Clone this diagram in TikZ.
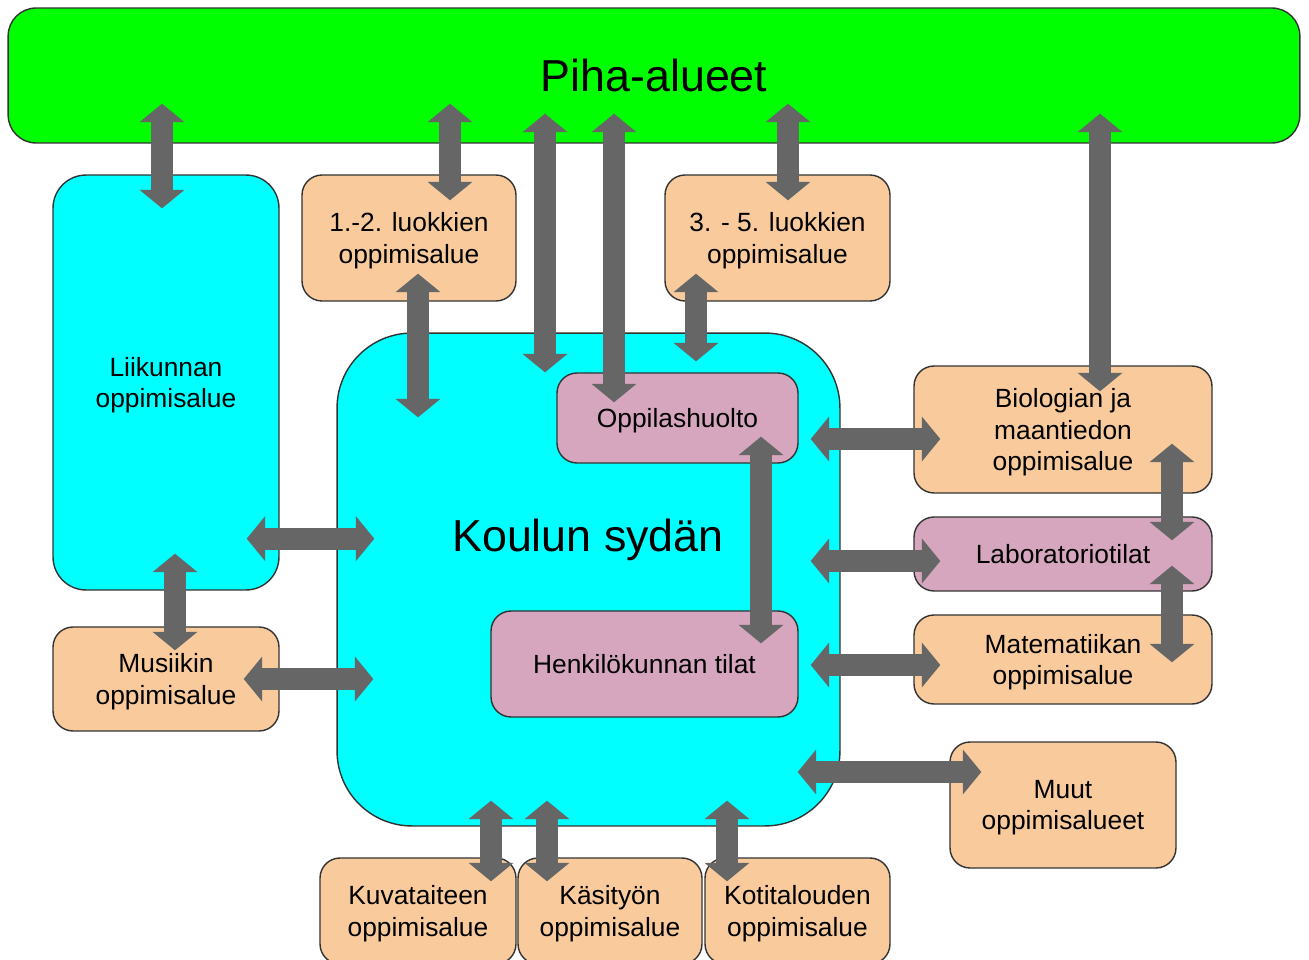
\documentclass[tikz,border=0pt]{standalone}
\usepackage{fontspec}
\setmainfont{Liberation Sans}
\usetikzlibrary{positioning,arrows.meta,calc}

\definecolor{pihagreen}{HTML}{00FF00}
\definecolor{sydancyan}{HTML}{00FFFF}
\definecolor{alueorange}{HTML}{F9CB9C}
\definecolor{tilapink}{HTML}{D5A6BD}
\definecolor{arrowgray}{HTML}{666666}

\begin{document}
\begin{tikzpicture}[x=0.02cm, y=-0.02cm,
    area/.style={rectangle, draw=black!80, line width=0.8pt, rounded corners=0.4cm,
        align=center, inner sep=0pt, text depth=0pt, font=\fontsize{15}{17.9}\selectfont},
    alue/.style={area, fill=alueorange},
    tila/.style={area, fill=tilapink},
    bigtext/.style={font=\fontsize{25.5}{30}\selectfont, text depth=0pt},
    twoway/.style={{Triangle[width=25pt,length=10.5pt]}-{Triangle[width=25pt,length=10.5pt]},
        line width=12.5pt, color=arrowgray}]

    \clip (0,0) rectangle (1309,960);

    % areas
    \node[area, fill=pihagreen, rounded corners=0.56cm, minimum width=25.84cm, minimum height=2.7cm, bigtext] (piha) at (654,75.5) {Piha-alueet};
    \node[area, fill=sydancyan, rounded corners=0.66cm, minimum width=4.52cm, minimum height=8.3cm] (liik) at (166,382.5) {Liikunnan\\oppimisalue};
    \node[alue, minimum width=4.28cm, minimum height=2.52cm] (luok12) at (409,238) {1.-2. luokkien\\oppimisalue};
    \node[alue, minimum width=4.5cm, minimum height=2.52cm] (luok35) at (777.5,238) {3. - 5. luokkien\\oppimisalue};
    \node[area, fill=sydancyan, rounded corners=1.5cm, minimum width=10.06cm, minimum height=9.86cm] (sydan) at (588.5,579.5) {};
    \node[bigtext] (sydanteksti) at (588,535) {Koulun sydän};
    \node[tila, minimum width=4.82cm, minimum height=1.8cm] (oppilas) at (677.5,418) {Oppilashuolto};
    \node[tila, minimum width=6.14cm, minimum height=2.12cm] (henk) at (644.5,664) {Henkilökunnan tilat};
    \node[alue, minimum width=5.96cm, minimum height=2.54cm] (bio) at (1063,429.5) {Biologian ja\\maantiedon\\oppimisalue};
    \node[tila, minimum width=5.96cm, minimum height=1.48cm] (lab) at (1063,554) {Laboratoriotilat};
    \node[alue, minimum width=5.96cm, minimum height=1.78cm] (mat) at (1063,659.5) {Matematiikan\\oppimisalue};
    \node[alue, minimum width=4.52cm, minimum height=2.52cm] (muut) at (1063,805) {Muut\\oppimisalueet};
    \node[alue, minimum width=4.52cm, minimum height=2.08cm] (musi) at (166,679) {Musiikin\\oppimisalue};
    \node[alue, minimum width=3.92cm, minimum height=2.12cm] (kuva) at (418,911) {Kuvataiteen\\oppimisalue};
    \node[alue, minimum width=3.68cm, minimum height=2.12cm] (kasi) at (610,911) {Käsityön\\oppimisalue};
    \node[alue, minimum width=3.7cm, minimum height=2.12cm] (koti) at (797.5,911) {Kotitalouden\\oppimisalue};

    % connections to the yard
    \draw[twoway] ($(liik.north |- piha.south)+(-4,-40)$) -- ([shift={(-4,34)}]liik.north);
    \draw[twoway] ($(luok12.north |- piha.south)+(41,-40)$) -- ([shift={(41,26)}]luok12.north);
    \draw[twoway] ($(sydan.north |- piha.south)+(-43.5,-30)$) -- ([shift={(-43.5,40)}]sydan.north);
    \draw[twoway] ($(oppilas.north |- piha.south)+(-63.5,-30)$) -- ([shift={(-63.5,30)}]oppilas.north);
    \draw[twoway] ($(luok35.north |- piha.south)+(10.5,-40)$) -- ([shift={(10.5,26)}]luok35.north);
    \draw[twoway] ($(bio.north |- piha.south)+(37,-30)$) -- ([shift={(37,26)}]bio.north);

    % connections to the heart of the school
    \draw[twoway] ([shift={(9,-28)}]luok12.south) -- ($(luok12.south |- sydan.north)+(9,85)$);
    \draw[twoway] ([shift={(-81.5,-28)}]luok35.south) -- ($(luok35.south |- sydan.north)+(-81.5,29)$);
    \draw[twoway] ($(liik.south east)+(-33,-52)$) -- ($(sydan.west |- liik.south)+(38,-52)$);
    \draw[twoway] ([shift={(9,-37)}]liik.south) -- ([shift={(9,24)}]musi.north);
    \draw[twoway] ([shift={(-36,0)}]musi.east) -- ($(sydan.west |- musi.east)+(37,0)$);
    \draw[twoway] ([shift={(83.5,-27)}]oppilas.south) -- ([shift={(116.5,33)}]henk.north);
    \draw[twoway] ($(sydan.east |- bio.west)+(-30,9.5)$) -- ([shift={(27,9.5)}]bio.west);
    \draw[twoway] ($(sydan.east |- lab.west)+(-30,7)$) -- ([shift={(27,7)}]lab.west);
    \draw[twoway] ($(sydan.east |- mat.west)+(-30,5.5)$) -- ([shift={(27,5.5)}]mat.west);
    \draw[twoway] ($(sydan.east |- muut.west)+(-43,-33)$) -- ([shift={(32,-33)}]muut.west);
    \draw[twoway] ([shift={(109,-50)}]bio.south) -- ([shift={(109,24)}]lab.north);
    \draw[twoway] ([shift={(109,-26)}]lab.south) -- ([shift={(109,48)}]mat.north);
    \draw[twoway] ($(kuva.north |- sydan.south)+(73,-26)$) -- ([shift={(73,24)}]kuva.north);
    \draw[twoway] ($(kasi.north |- sydan.south)+(-63,-26)$) -- ([shift={(-63,24)}]kasi.north);
    \draw[twoway] ($(koti.north |- sydan.south)+(-70.5,-26)$) -- ([shift={(-70.5,24)}]koti.north);
\end{tikzpicture}
\end{document}
